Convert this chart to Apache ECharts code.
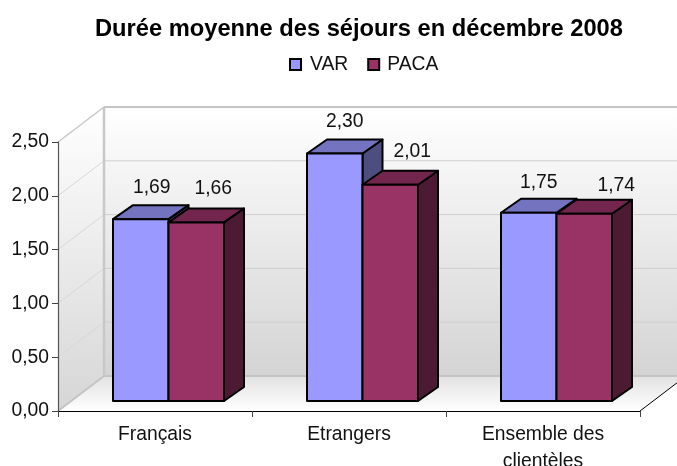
<!DOCTYPE html>
<html>
<head>
<meta charset="utf-8">
<script src="https://cdn.jsdelivr.net/npm/echarts@6/dist/echarts.min.js"></script>
<style>html,body{margin:0;padding:0;background:#fff;overflow:hidden}#c{width:677px;height:466px}</style>
</head>
<body>
<div id="c"></div>
<script>
const titleText = 'Durée moyenne des séjours en décembre 2008';
const categories = ['Français', 'Etrangers', 'Ensemble des\nclientèles'];
const seriesNames = ['VAR', 'PACA'];
const varValues = [1.69, 2.30, 1.75];
const pacaValues = [1.66, 2.01, 1.74];
const yTicks = [0, 0.5, 1, 1.5, 2, 2.5];

// layout / style constants
const WALL_DX = 46, WALL_DY = -35;
const BAR_DX = 20, BAR_DY = -14;
const BASE_LIFT = 10;
const BAR_W = 55.5, BAR_SHIFT = 13.5;
const FONT = '"Liberation Sans", Arial, sans-serif';
const STYLE = {
  VAR:  { front: '#9999FF', top: '#7373BF', side: '#4D4D80', labelDx: [11, 10, 10], labelDy: [-17, -18, -16] },
  PACA: { front: '#993366', top: '#73264D', side: '#4D1A33', labelDx: [17, 22, 32], labelDy: [-20, -19, -14] }
};

const fmt = v => v.toFixed(2).replace('.', ',');

function renderWalls(params, api) {
  const s = params.coordSys;
  const left = s.x, right = s.x + s.width, bottom = s.y + s.height, top = s.y;
  const D = [WALL_DX, WALL_DY];
  const yOf = v => api.coord([0, v])[1];
  const kids = [];
  kids.push({ type: 'polygon', silent: true,
    shape: { points: [[left + D[0], top + D[1]], [right + D[0], top + D[1]], [right + D[0], bottom + D[1]], [left + D[0], bottom + D[1]]] },
    style: { fill: { type: 'linear', x: 0, y: 0, x2: 0, y2: 1, colorStops: [{ offset: 0, color: '#ffffff' }, { offset: 1, color: '#d4d4d4' }] } } });
  kids.push({ type: 'polygon', silent: true,
    shape: { points: [[left, top], [left + D[0], top + D[1]], [left + D[0], bottom + D[1]], [left, bottom]] },
    style: { fill: { type: 'linear', x: 0, y: 0, x2: 0, y2: 1, colorStops: [{ offset: 0, color: '#ffffff' }, { offset: 1, color: '#d6d6d6' }] } } });
  kids.push({ type: 'polygon', silent: true,
    shape: { points: [[left, bottom], [left + D[0], bottom + D[1]], [right + D[0], bottom + D[1]], [right, bottom]] },
    style: { fill: { type: 'linear', x: 0, y: 0, x2: 0, y2: 1, colorStops: [{ offset: 0, color: '#e2e2e2' }, { offset: 1, color: '#ffffff' }] } } });
  yTicks.forEach(v => {
    const y = yOf(v);
    const edge = v === 0 || v === 2.5;
    if (v !== 0) kids.push({ type: 'line', silent: true, shape: { x1: left, y1: y, x2: left + D[0], y2: y + D[1] },
      style: { stroke: edge ? '#c8c8c8' : '#d8d8d8', lineWidth: edge ? 1.5 : 1 } });
    kids.push({ type: 'line', silent: true, shape: { x1: left + D[0], y1: y + D[1], x2: right + D[0], y2: y + D[1] },
      style: { stroke: edge ? '#c4c4c4' : '#cfcfcf', lineWidth: edge ? 2 : 1 } });
  });
  kids.push({ type: 'line', silent: true, shape: { x1: left + D[0], y1: top + D[1], x2: left + D[0], y2: bottom + D[1] }, style: { stroke: '#c8c8c8', lineWidth: 2.5 } });
  kids.push({ type: 'line', silent: true, shape: { x1: left, y1: bottom, x2: left + D[0], y2: bottom + D[1] }, style: { stroke: '#c4c4c4', lineWidth: 2 } });
  kids.push({ type: 'line', silent: true, shape: { x1: right, y1: bottom, x2: right + D[0], y2: bottom + D[1] }, style: { stroke: '#000', lineWidth: 1 } });
  return { type: 'group', children: kids };
}

function renderBar(name, offsetIdx) {
  return function (params, api) {
    const i = api.value(0), v = api.value(1);
    const st = STYLE[name];
    const cx = api.coord([i, 0])[0] + BAR_SHIFT;
    const x0 = offsetIdx === 0 ? cx - BAR_W : cx;
    const x1 = x0 + BAR_W;
    const yb = api.coord([i, 0])[1] - BASE_LIFT;
    const yt = api.coord([i, v])[1] - BASE_LIFT;
    const ln = { stroke: '#000', lineWidth: 2, lineJoin: 'round' };
    return { type: 'group', children: [
      { type: 'polygon', shape: { points: [[x1, yb], [x1 + BAR_DX, yb + BAR_DY], [x1 + BAR_DX, yt + BAR_DY], [x1, yt]] }, style: Object.assign({ fill: st.side }, ln) },
      { type: 'polygon', shape: { points: [[x0, yt], [x0 + BAR_DX, yt + BAR_DY], [x1 + BAR_DX, yt + BAR_DY], [x1, yt]] }, style: Object.assign({ fill: st.top }, ln) },
      { type: 'rect', shape: { x: x0, y: yt, width: BAR_W, height: yb - yt }, style: Object.assign({ fill: st.front }, ln) },
      { type: 'text', z2: 50, style: { text: fmt(v), x: (x0 + x1) / 2 + st.labelDx[i], y: yt + BAR_DY + st.labelDy[i],
        align: 'center', verticalAlign: 'middle', font: '19.3px ' + FONT, fill: '#111' } }
    ] };
  };
}

const chart = echarts.init(document.getElementById('c'), null, { renderer: 'canvas' });
chart.setOption({
  animation: false,
  backgroundColor: '#fff',
  title: { text: titleText, left: 90, top: 12, textStyle: { fontFamily: FONT, fontWeight: 'bold', fontSize: 23.7, color: '#000' } },
  legend: {
    left: 284, top: 50, icon: 'rect', itemWidth: 11, itemHeight: 11, itemGap: 19, selectedMode: false,
    textStyle: { fontFamily: FONT, fontSize: 19.3, color: '#111' },
    data: [
      { name: 'VAR', itemStyle: { color: STYLE.VAR.front, borderColor: '#000', borderWidth: 2 }, textStyle: { padding: [0, 0, 0, 4] } },
      { name: 'PACA', itemStyle: { color: STYLE.PACA.front, borderColor: '#000', borderWidth: 2 }, textStyle: { padding: [0, 0, 0, 3] } }
    ]
  },
  grid: { left: 58, top: 142, width: 582, height: 269, containLabel: false, outerBoundsMode: 'none' },
  xAxis: {
    type: 'category', data: categories, z: 5,
    axisLine: { lineStyle: { color: '#000', width: 1.2 } },
    axisTick: { show: true, alignWithLabel: false, length: 6, lineStyle: { color: '#444' } },
    axisLabel: { fontFamily: FONT, fontSize: 19.3, color: '#111', margin: 10, lineHeight: 27, interval: 0 },
    splitLine: { show: false }
  },
  yAxis: {
    type: 'value', min: 0, max: 2.5, interval: 0.5, z: 5,
    axisLine: { show: true, lineStyle: { color: '#555', width: 1.2 } },
    axisTick: { show: true, length: 6, lineStyle: { color: '#444' } },
    axisLabel: { fontFamily: FONT, fontSize: 19.3, color: '#111', margin: 9, formatter: v => fmt(v) },
    splitLine: { show: false }
  },
  series: [
    { type: 'custom', name: 'walls', z: 1, silent: true, renderItem: renderWalls, data: [[0, 0]], encode: { x: 0, y: 1 } },
    { type: 'custom', name: 'VAR', z: 2, renderItem: renderBar('VAR', 0), encode: { x: 0, y: 1 },
      itemStyle: { color: STYLE.VAR.front }, data: varValues.map((v, i) => [i, v]) },
    { type: 'custom', name: 'PACA', z: 3, renderItem: renderBar('PACA', 1), encode: { x: 0, y: 1 },
      itemStyle: { color: STYLE.PACA.front }, data: pacaValues.map((v, i) => [i, v]) }
  ]
});
</script>
</body>
</html>
